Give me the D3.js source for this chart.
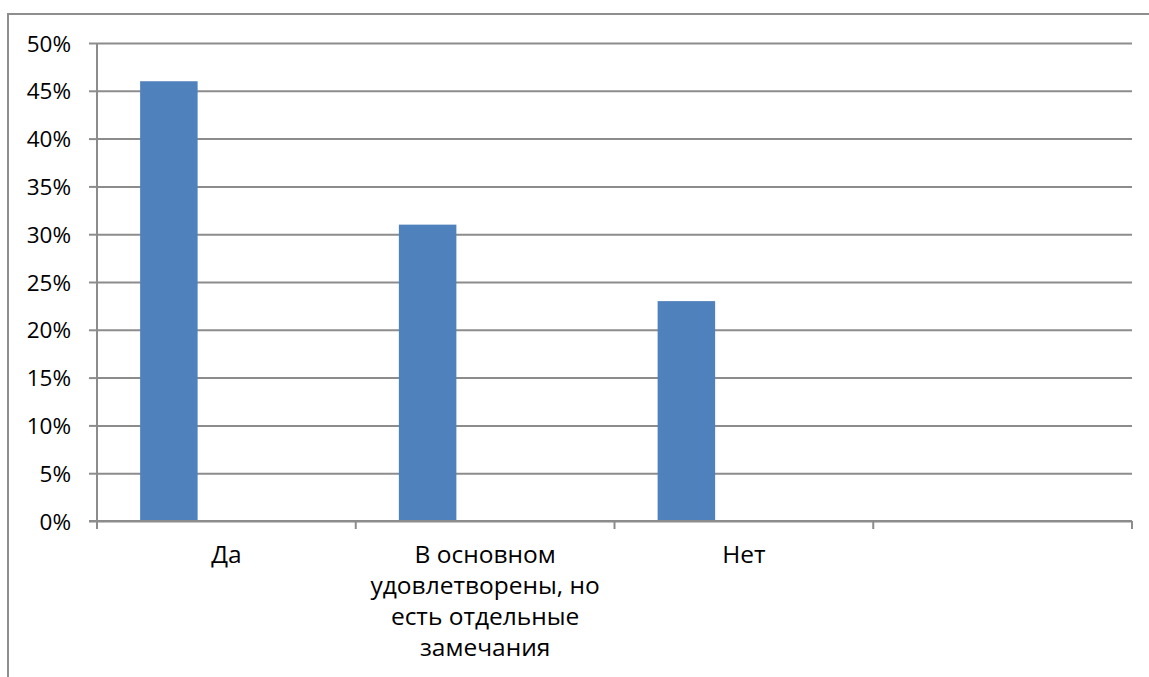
<!DOCTYPE html>
<html>
<head>
<meta charset="utf-8">
<script src="https://cdn.jsdelivr.net/npm/d3@7"></script>
<style>
  html, body { margin: 0; padding: 0; background: #fff; }
  svg { display: block; }
  text { font-family: "Open Sans", "Noto Sans", sans-serif; fill: #000; }
</style>
</head>
<body>
<svg id="chart" width="1149" height="677"></svg>
<script>
// ---- data ----
const categories = ["Да", "В основном\nудовлетворены, но\nесть отдельные\nзамечания", "Нет", ""];
const seriesNames = ["Ряд 1", "Ряд 2", "Ряд 3"];
const series1 = [0.46, 0.31, 0.23, null];
const yTicks = [0, 0.05, 0.10, 0.15, 0.20, 0.25, 0.30, 0.35, 0.40, 0.45, 0.50];

// ---- layout ----
const W = 1149, H = 677;
const plot = { left: 97, right: 1132, top: 43, bottom: 521 };
const gridColor = "#8c8c8c";
const barColor = "#4f81bd";
const yFont = 22.5;
const xFont = 24.5;

const svg = d3.select("#chart");

// outer chart border
svg.append("rect")
  .attr("x", 8).attr("y", 14)
  .attr("width", W + 20).attr("height", H + 20)
  .attr("fill", "none").attr("stroke", "#8e8e8e").attr("stroke-width", 2);

const x = d3.scaleBand().domain(d3.range(categories.length)).range([plot.left, plot.right]).paddingInner(0).paddingOuter(0);
const xs = d3.scaleBand().domain(seriesNames).range([0, x.bandwidth()]).paddingInner(0).paddingOuter(0.75);
const y = d3.scaleLinear().domain([0, 0.5]).range([plot.bottom, plot.top]);

// gridlines + y ticks
const yAxis = d3.axisLeft(y).tickValues(yTicks).tickFormat(d3.format(".0%"))
  .tickSizeInner(-(plot.right - plot.left)).tickSizeOuter(0).tickPadding(18);
const gy = svg.append("g").attr("transform", `translate(${plot.left},0)`).call(yAxis);
gy.select(".domain").remove();
gy.selectAll(".tick line").attr("stroke", gridColor).attr("stroke-width", 2);
gy.selectAll(".tick").append("line")
  .attr("x1", -8).attr("x2", 0).attr("stroke", gridColor).attr("stroke-width", 2);
gy.selectAll(".tick text").attr("font-size", yFont).attr("dy", "0.36em").attr("x", -26)
  .style("font-family", '"Open Sans", sans-serif');

// vertical axis line
svg.append("line")
  .attr("x1", plot.left).attr("x2", plot.left)
  .attr("y1", y(0.5)).attr("y2", y(0) + 8)
  .attr("stroke", gridColor).attr("stroke-width", 2);

// bars
svg.append("g").selectAll("rect")
  .data(series1.map((v, i) => ({ v, i })).filter(d => d.v != null))
  .join("rect")
  .attr("x", d => x(d.i) + xs(seriesNames[0]))
  .attr("width", xs.bandwidth())
  .attr("y", d => y(d.v))
  .attr("height", d => y(0) - y(d.v))
  .attr("fill", barColor);

// x axis baseline + tick marks at band boundaries
svg.append("line")
  .attr("x1", plot.left - 8).attr("x2", plot.right)
  .attr("y1", y(0)).attr("y2", y(0))
  .attr("stroke", gridColor).attr("stroke-width", 2);
const bounds = d3.range(categories.length).map(i => x(i)).concat([x.range()[1]]);
svg.append("g").selectAll("line").data(bounds).join("line")
  .attr("x1", d => d).attr("x2", d => d)
  .attr("y1", y(0)).attr("y2", y(0) + 8)
  .attr("stroke", gridColor).attr("stroke-width", 2);

// category labels
const lab = svg.append("g").selectAll("text").data(categories).join("text")
  .attr("x", (d, i) => x(i) + x.bandwidth() / 2)
  .attr("y", 563)
  .attr("text-anchor", "middle")
  .attr("font-size", xFont);
lab.each(function(d) {
  const t = d3.select(this);
  d.split("\n").forEach((line, k) => {
    t.append("tspan").attr("x", t.attr("x")).attr("dy", k === 0 ? 0 : 31).text(line);
  });
});
</script>
</body>
</html>
